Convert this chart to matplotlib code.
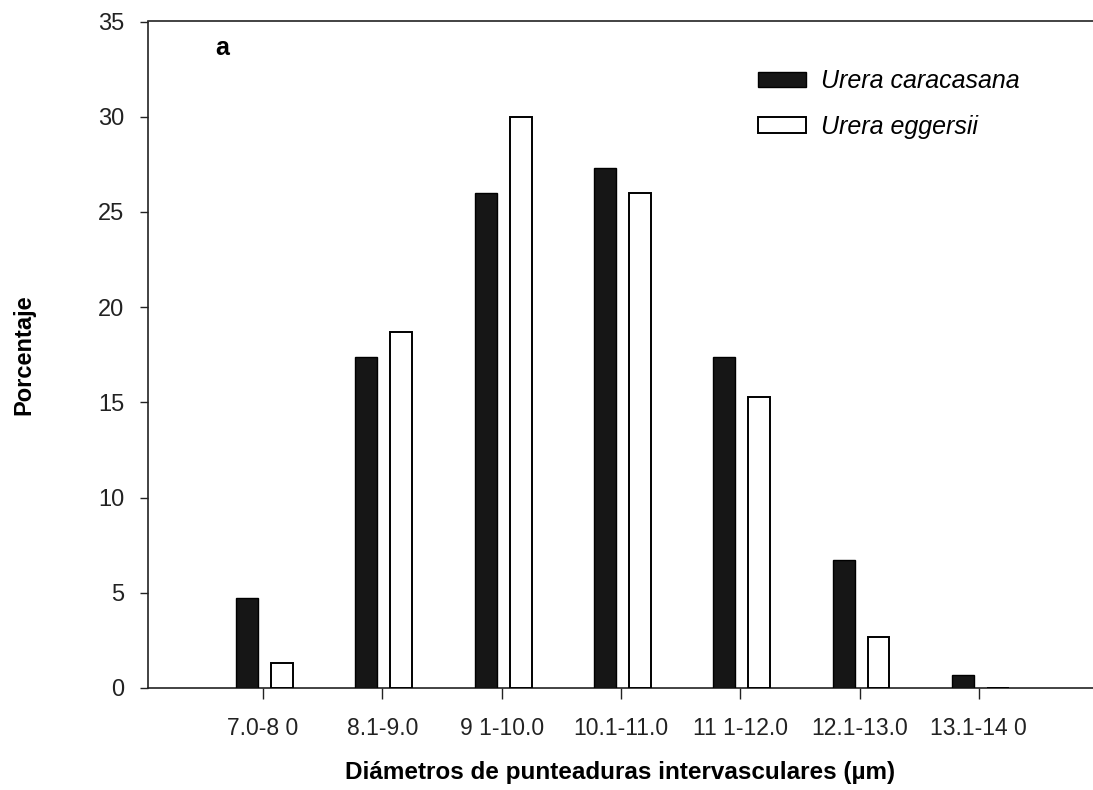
import matplotlib
matplotlib.use("Agg")
import matplotlib.pyplot as plt
import numpy as np

categories = ["7.0-8 0", "8.1-9.0", "9 1-10.0", "10.1-11.0", "11 1-12.0", "12.1-13.0", "13.1-14 0"]
caracasana = [4.7, 17.4, 26.0, 27.3, 17.4, 6.7, 0.7]
eggersii = [1.3, 18.7, 30.0, 26.0, 15.3, 2.7, 0.0]
series_names = ["Urera caracasana", "Urera eggersii"]

plt.rcParams['font.family'] = ['Liberation Sans', 'DejaVu Sans']

fig = plt.figure(figsize=(10.93, 7.90), dpi=100)
ax = fig.add_axes([148/1093, 1-688/790, 1-148/1093, (688-21.5)/790])

x = np.arange(len(categories))
w = 0.184
ax.bar(x - 0.134, caracasana, width=w, color='#161616', edgecolor='#000000',
       linewidth=1.0, label=series_names[0], zorder=3)
ax.bar(x + 0.159, eggersii, width=w, color='white', edgecolor='#000000',
       linewidth=1.4, label=series_names[1], zorder=3)

ax.set_xlim(-0.964, 6.957)
ax.set_ylim(0, 35)
ax.set_yticks(np.arange(0, 36, 5))
ax.set_xticks(x)
ax.set_xticklabels(categories)

for s in ['left', 'bottom', 'top']:
    ax.spines[s].set_color('#222222')
    ax.spines[s].set_linewidth(1.2)
ax.spines['right'].set_visible(False)

ax.tick_params(axis='y', direction='out', length=6, width=1, pad=11,
               labelsize=17, colors='#222222')
ax.tick_params(axis='x', direction='out', length=8, width=1, pad=13,
               labelsize=16.5, colors='#222222')

ax.set_ylabel('Porcentaje', fontsize=17, fontweight='bold', labelpad=45)
ax.set_xlabel('Diámetros de punteaduras intervasculares (µm)', fontsize=17.5,
              fontweight='bold', labelpad=15)

ax.text(0.071, 0.960, 'a', transform=ax.transAxes, fontsize=18,
        fontweight='bold', ha='left', va='center')

leg = ax.legend(loc='upper left', bbox_to_anchor=(0.622, 0.962), frameon=False,
                prop={'style': 'italic', 'size': 18}, handlelength=1.9,
                handleheight=0.6, labelspacing=0.85, handletextpad=0.6)

fig.savefig('out.png', dpi=100)
